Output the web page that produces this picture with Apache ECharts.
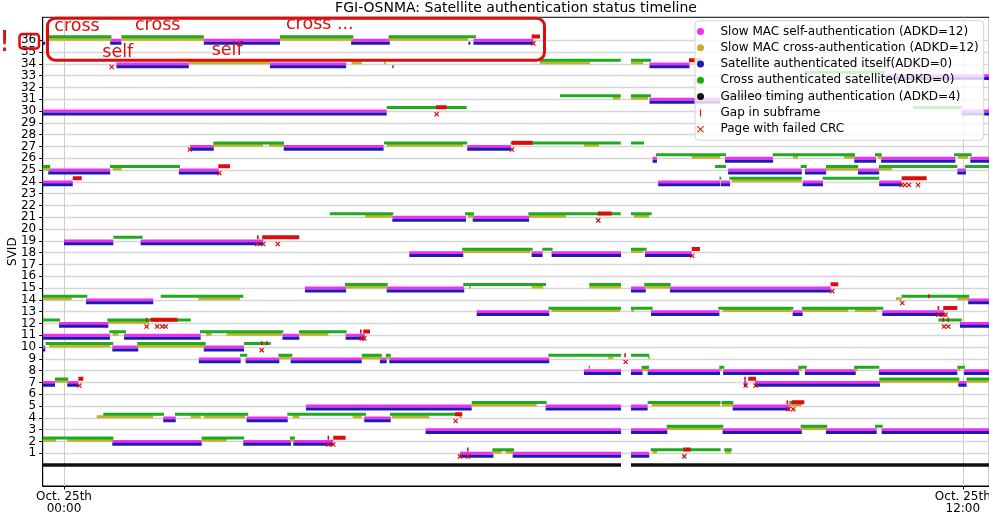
<!DOCTYPE html>
<html><head><meta charset="utf-8">
<script src="https://cdn.jsdelivr.net/npm/echarts@6/dist/echarts.min.js"></script>
<style>html,body{margin:0;padding:0;background:#fff}#c{width:989px;height:514px}</style>
</head><body><div id="c"></div>
<script>
// ---- axis / labels ----
const svidTicks = Array.from({length: 36}, (_, i) => i + 1);
const xTickValues = [0, 720];               // minutes since Oct. 25th 00:00
const xTickLabels = ['Oct. 25th\n00:00', 'Oct. 25th\n12:00'];
const seriesNames = [
  'Slow MAC self-authentication (ADKD=12)',
  'Slow MAC cross-authentication (ADKD=12)',
  'Satellite authenticated itself(ADKD=0)',
  'Cross authenticated satellite(ADKD=0)',
  'Galileo timing authentication (ADKD=4)',
  'Gap in subframe',
  'Page with failed CRC'
];

// ---- data: [SVID, start minute, end minute] ----
const selfSlow = [
 [36,37,46],[36,112,173],[36,230,261],[36,328,376],
 [34,42,100],[34,165,226],[34,469,501],
 [33,658,741],[31,469,525.5],[30,-17,258.5],[30,719,741],
 [27,101,120],[27,176,256],[27,323,358],
 [26,471.5,475],[26,529.5,568],[26,633,650.5],[26,654.5,714],[26,726,741],
 [25,-12.6,37],[25,92,124],[25,532,591],[25,593.5,610.5],[25,636,653],[25,715.6,722.5],
 [24,-17,7],[24,476,525.5],[24,526,533.5],[24,591.7,608],[24,653,671],
 [21,263,322],[21,327.4,372.5],
 [19,0,39.5],[19,61.4,159.6],
 [18,276.6,319.8],[18,374.6,383.4],[18,390.6,446.2],[18,465.4,502.8],
 [15,193,226],[15,258.5,320.6],[15,454.2,466],[15,485.4,614.1],
 [14,17.6,71.5],[14,724.3,741],
 [13,330.6,388.7],[13,470.2,525],[13,583.7,591.7],[13,655.5,705],
 [12,-4,35.5],[12,717.7,741],
 [11,-17,36.8],[11,48.1,109.5],[11,175,188.5],[11,225.6,241],
 [10,-17,-15],[10,38.7,59.5],[10,112,144.2],
 [9,108,141.5],[9,145.5,172.5],[9,181.6,238.5],[9,253,258.5],[9,260.6,388.7],
 [8,416.5,446.2],[8,454.2,463.5],[8,467.5,525.5],[8,528,589],[8,593.5,634.2],[8,652.8,715.6],[8,721,741],
 [7,-17,-7.2],[7,2.6,11.5],[7,544.7,546.8],[7,553.5,653.6],[7,716.4,723],
 [5,193.8,326.6],[5,385.8,446.2],[5,454.2,467.5],[5,535.6,581.5],
 [4,79.5,89.5],[4,146.3,179.2],[4,240.5,261.7],
 [3,289.7,446.2],[3,454.2,483.3],[3,527.6,591],[3,610.4,651],[3,655,741],
 [2,38.7,110.3],[2,143.6,181.8],[2,183.7,215.7],
 [1,317.2,344],[1,359.4,446.2],[1,454.2,468.8]
];
const crossSlow = [
 [36,-13,38],[36,46,112],[36,173,231.7],[36,260,323.6],
 [34,99.6,165],[34,230.4,238.5],[34,256.5,258],[34,381.3,421.3],[34,454.2,463.8],
 [31,439.7,445.4],[31,454.2,467.8],
 [27,119.6,159.4],[27,164.2,176.2],[27,258.7,319.6],[27,416.5,428.5],
 [26,502.8,525.5],[26,583.9,587.9],[26,624.8,633.6],[26,652,655.5],[26,716.1,724.1],
 [25,-17,-11],[25,39,46.2],[25,610.4,636],[25,652,663.2],
 [24,534.9,590.9],
 [21,241.1,262.5],[21,323.6,328.4],[21,372.5,402.1],[21,456.5,468.6],
 [18,319.6,373.3],[18,454.2,463.8],
 [15,225.1,258.7],[15,324.5,326],[15,374.6,383.9],[15,420.8,446.2],[15,464.8,486],
 [14,-17,6.2],[14,107.6,141],[14,666.4,671],[14,715.6,725.1],
 [13,390.6,445.4],[13,454.5,456.5],[13,527.6,582.9],[13,591.7,628.2],[13,633.6,651],
 [12,35.5,68.3],
 [11,39,43.5],[11,113.7,118.3],[11,130.3,174.4],[11,189,211.7],
 [10,-11.8,36.8],[10,58.7,112.1],
 [9,172.5,181.6],[9,238.5,254.5],[9,257.9,261.7],[9,436,440],[9,468,469.5],
 [8,462.7,467.8],[8,525,527],[8,588,591],[8,633,636],[8,716,718],
 [7,-7.2,3.4],[7,653.1,717.2],[7,723,741],
 [5,326.6,378.6],[5,470.7,525.5],[5,526.8,536.1],[5,581.5,590.9],
 [4,26.2,71.5],[4,101.5,109.5],[4,112.1,145],[4,183.2,188.5],[4,231.2,238.5],[4,262.5,292.6],[4,317,318.5],
 [3,482.8,527.6],[3,590.9,610.9],
 [2,-17,-6.4],[2,2.6,39.5],[2,110.3,130.3],[2,181,184],
 [1,343.1,350.6],[1,353.8,359.9],[1,471.5,475],[1,529.5,534.3]
];
const selfAuth = [
 [36,-17,-15],[36,37,46],[36,112,173],[36,230,261],[36,324,325.5],[36,328,376],
 [34,42,100],[34,165,226],[34,263,264],[34,469,501],
 [33,658,741],[31,469,525.5],[30,-17,258.5],[30,719,741],
 [27,101,120],[27,176,256],[27,323,358],
 [26,471.5,475],[26,529.5,568],[26,633,650.5],[26,654.5,714],[26,726,741],
 [25,-12.6,37],[25,92,124],[25,532,591],[25,593.5,610.5],[25,636,653],[25,715.6,722.5],
 [24,-17,7],[24,476,525.5],[24,526,533.5],[24,591.7,608],[24,653,671],
 [21,263,322],[21,327.4,372.5],
 [19,0,39.5],[19,61.4,159.6],
 [18,276.6,319.8],[18,374.6,383.4],[18,390.6,446.2],[18,465.4,502.8],
 [15,193,226],[15,258.5,320.6],[15,454.2,466],[15,485.4,614.1],
 [14,17.6,71.5],[14,724.3,741],
 [13,330.6,388.7],[13,470.2,525],[13,583.7,591.7],[13,655.5,705],
 [12,-4,35.5],[12,717.7,741],
 [11,-17,36.8],[11,48.1,109.5],[11,175,188.5],[11,225.6,241],
 [10,-17,-15],[10,38.7,59.5],[10,112,144.2],
 [9,108,141.5],[9,145.5,172.5],[9,181.6,238.5],[9,253,258.5],[9,260.6,388.7],
 [8,416.5,446.2],[8,454.2,463.5],[8,467.5,525.5],[8,528,589],[8,593.5,634.2],[8,652.8,715.6],[8,721,741],
 [7,-17,-7.2],[7,2.6,11.5],[7,544.7,546.8],[7,553.5,653.6],[7,716.4,723],
 [5,193.8,326.6],[5,385.8,446.2],[5,454.2,467.5],[5,535.6,581.5],
 [4,79.5,89.5],[4,146.3,179.2],[4,240.5,261.7],
 [3,289.7,446.2],[3,454.2,483.3],[3,527.6,591],[3,610.4,651],[3,655,741],
 [2,38.7,110.3],[2,143.6,181.8],[2,183.7,215.7],
 [1,317.2,344],[1,359.4,446.2],[1,454.2,468.8]
];
const crossAuth = [
 [36,-13,38],[36,46,112],[36,173,231.7],[36,260,330],
 [34,381,446],[34,454.2,470.2],
 [33,593.5,657.6],
 [31,397.3,446],[31,454.2,470.2],[31,527,573.5],
 [30,258.5,322.6],[30,680,719.3],
 [27,119.6,176.2],[27,256.3,323],[27,357.8,446],[27,454.2,464.6],
 [26,474.2,530.3],[26,567.7,633.6],[26,649.6,655],[26,712.9,727.1],
 [25,-17,-11],[25,36.8,92.9],[25,521.5,530.3],[25,590.1,595],[25,610.4,636.2],[25,652.8,715.6],[25,721.7,741],
 [24,525,526.5],[24,533,591],[24,607.7,653],
 [21,213,263.8],[21,321.2,328.4],[21,372,446],[21,454.2,470.7],
 [19,39.5,63],
 [18,319,375.4],[18,383.1,391.4],[18,454.2,466.7],
 [15,225.1,259.3],[15,319.8,386.1],[15,420.8,446.2],[15,464.8,486],
 [14,-17,18.7],[14,77.5,143.6],[14,671,725.1],
 [13,388,446.2],[13,454.2,471.5],[13,524.1,584.2],[13,591,656.3],
 [12,-17,-3.2],[12,34.7,101.5],[12,700.4,719.1],
 [11,36.3,49.7],[11,108.9,175.7],[11,188.2,226.4],
 [10,-14.7,39.5],[10,58.7,113.5],[10,144.2,165.6],
 [9,141,146.8],[9,171.7,182.9],[9,238.5,254.5],[9,257.9,261.7],[9,388,446.2],[9,454.2,468.8],
 [8,420.3,421.3],[8,462.7,468.6],[8,524.9,528.9],[8,588.2,595],[8,633,653.1],[8,715.6,721.7],
 [7,-7.2,3.4],[7,653.1,717.2],[7,723,741],
 [5,326.6,386.6],[5,467.5,526],[5,526.8,536.1],[5,581,589.5],
 [4,31.5,80.1],[4,88.9,147.6],[4,178.9,241.9],[4,261.1,318.6],
 [3,482.8,528.1],[3,590.1,611.4],[3,649.6,655.8],
 [2,-17,39.5],[2,110.3,144.4],[2,181,185],
 [1,343.1,360.5],[1,469.9,526],[1,528.9,534.9]
];
const timingAuth = [[0,-17,446.2],[0,454.2,741]];
const gapSubframe = [
 [36,374.6,381.3],[34,500.6,509.4],[30,298,306.5],[27,358.6,375.4],[25,123.6,133],
 [24,7,14.2],[24,671,691],[21,427.5,438.7],[19,155,155.6],[19,158.8,188.5],[18,502.8,509.4],
 [15,614.1,620.2],[14,692.6,693.2],[13,700.1,700.7],[13,704.3,715.6],
 [12,66,66.5],[12,69.4,90.8],[12,74.5,75],[12,704,704.6],[12,708,708.6],
 [11,237.5,238],[11,239.7,245.1],[10,158.2,158.7],[10,162.2,162.7],[9,449.2,449.7],
 [7,11.5,15.5],[7,545.3,545.8],[7,548.1,554.3],[5,579.2,579.7],[5,582.9,593],
 [4,313.2,319],[2,211.5,212],[2,215.7,225.6],[1,323.2,323.7],[1,496.1,502]
];
const failedCRC = [
 [36,375.9],[34,38.2],[30,298.5],[27,100.9],[27,358.8],[25,124.4],
 [24,671],[24,673.6],[24,676.8],[24,684.1],[21,428],[19,154.8],[19,159.6],[19,171.2],
 [18,503.3],[15,615.4],[14,671.5],[13,700.4],[13,704.3],[13,706.2],
 [12,66.2],[12,74.7],[12,78.7],[12,81.5],[12,704.9],[12,708.3],
 [11,238.5],[11,240.5],[10,158.4],[9,449.9],[7,12.3],[7,546],[7,554],
 [5,580.2],[5,584.2],[4,313.7],[2,211.7],[2,215.7],[1,317.2],[1,323.8],[1,496.9]
];

// ---- rendering ----
const RED = '#dc0d0d';
const FONT = 'DejaVu Sans';
function segRenderer(offset, h, minW) {
  return function (params, api) {
    const sv = api.value(0), s = api.value(1), e = api.value(2);
    const a = api.coord([s, sv + offset]);
    const b = api.coord([e, sv + offset]);
    let x = a[0], w = b[0] - a[0];
    if (w < minW) { x = (a[0] + b[0]) / 2 - minW / 2; w = minW; }
    const cs = params.coordSys;
    const r = echarts.graphic.clipRectByRect({x: x, y: a[1] - h / 2, width: w, height: h},
      {x: cs.x, y: cs.y, width: cs.width, height: cs.height});
    if (!r) return null;
    return {type: 'rect', shape: r, style: {fill: api.visual('color')}};
  };
}
function crossRenderer(offset, size) {
  return function (params, api) {
    const p = api.coord([api.value(1), api.value(0) + offset]);
    const d = size / 2;
    const st = {stroke: api.visual('color'), lineWidth: 1.2};
    return {type: 'group', children: [
      {type: 'line', shape: {x1: p[0] - d, y1: p[1] - d, x2: p[0] + d, y2: p[1] + d}, style: st},
      {type: 'line', shape: {x1: p[0] - d, y1: p[1] + d, x2: p[0] + d, y2: p[1] - d}, style: st}
    ]};
  };
}
function segSeries(name, data, color, offset, h, minW, z) {
  return {type: 'custom', name: name, data: data, clip: true, z: z,
    itemStyle: {color: color}, encode: {x: [1, 2], y: 0},
    renderItem: segRenderer(offset, h, minW), silent: true};
}

const chart = echarts.init(document.getElementById('c'), null, {renderer: 'canvas'});
const xPath = 'path://M0,1L1,0L5,4L9,0L10,1L6,5L10,9L9,10L5,6L1,10L0,9L4,5Z';
chart.setOption({
  animation: false,
  backgroundColor: '#fff',
  title: {text: 'FGI-OSNMA: Satellite authentication status timeline', left: 516, top: 1,
    textAlign: 'center', padding: 0,
    textStyle: {fontFamily: FONT, fontSize: 14, fontWeight: 'normal', color: '#000'}},
  grid: {left: 42.7, top: 17.3, width: 946.6, height: 468.7, show: true,
    borderColor: '#000', borderWidth: 1, containLabel: false, outerBoundsMode: 'none'},
  xAxis: {type: 'value', min: -17.06, max: 741.2,
    axisLine: {show: true, onZero: false, lineStyle: {color: '#000', width: 1}},
    axisTick: {show: true, customValues: xTickValues, length: 3.5, lineStyle: {color: '#000'}},
    axisLabel: {customValues: xTickValues, margin: 5.5, fontFamily: FONT, fontSize: 12, color: '#000',
      lineHeight: 11.7, formatter: v => xTickLabels[xTickValues.indexOf(v)]},
    splitLine: {show: true, lineStyle: {color: '#cccccc', width: 1}}},
  yAxis: {type: 'value', min: -1.77, max: 37.95, name: 'SVID', nameLocation: 'middle', nameGap: 24,
    nameMoveOverlap: false,
    nameTextStyle: {fontFamily: FONT, fontSize: 12, color: '#000'},
    axisLine: {show: true, onZero: false, lineStyle: {color: '#000', width: 1}},
    axisTick: {show: true, customValues: svidTicks, length: 3.5, lineStyle: {color: '#000'}},
    axisLabel: {customValues: svidTicks, margin: 6.5, fontFamily: FONT, fontSize: 12, color: '#000'},
    splitLine: {show: true, lineStyle: {color: '#d6d6d6', width: 1.3}}},
  legend: {orient: 'vertical', left: 695, top: 20.7, padding: [4.7, 5, 5, 2],
    itemWidth: 30, itemHeight: 7, itemGap: 4.3,
    backgroundColor: 'rgba(255,255,255,0.8)', borderColor: '#d4d4d4', borderWidth: 1, borderRadius: 4,
    textStyle: {fontFamily: FONT, fontSize: 12, color: '#000'},
    data: [
      {name: seriesNames[0], icon: 'circle'},
      {name: seriesNames[1], icon: 'circle'},
      {name: seriesNames[2], icon: 'circle'},
      {name: seriesNames[3], icon: 'circle'},
      {name: seriesNames[4], icon: 'circle'},
      {name: seriesNames[5], icon: 'path://M0,0h1v6h-1z'},
      {name: seriesNames[6], icon: xPath}
    ]},
  series: [
    segSeries(seriesNames[0], selfSlow, '#f02ff0', 0.0, 3, 1, 2),
    segSeries(seriesNames[1], crossSlow, '#bdb32c', 0.1, 3, 1, 2),
    segSeries(seriesNames[2], selfAuth, '#1c1cb4', -0.24, 3, 1, 2),
    segSeries(seriesNames[3], crossAuth, '#20aa20', 0.3, 3, 1, 2),
    segSeries(seriesNames[4], timingAuth, '#111111', 0.0, 3.5, 1, 2),
    segSeries(seriesNames[5], gapSubframe, RED, 0.32, 4, 1.6, 3),
    {type: 'custom', name: seriesNames[6], data: failedCRC, clip: true, z: 3,
      itemStyle: {color: RED}, encode: {x: 1, y: 0}, silent: true,
      renderItem: crossRenderer(-0.26, 4.2)}
  ],
  graphic: [
    {type: 'rect', shape: {x: 47.5, y: 18.2, width: 497, height: 42, r: 8}, z: 100,
      style: {fill: 'none', stroke: RED, lineWidth: 3}},
    {type: 'rect', shape: {x: 19.5, y: 34, width: 19.5, height: 14.5, r: 3}, z: 100,
      style: {fill: 'none', stroke: RED, lineWidth: 2.5}},
    {type: 'text', z: 100, style: {text: '!', x: 4.5, y: 43.5, fill: RED, fontFamily: FONT, fontSize: 29, align: 'center', verticalAlign: 'middle'}},
    {type: 'text', z: 100, style: {text: 'cross', x: 54.3, y: 26.3, fill: RED, fontFamily: FONT, fontSize: 17.5, verticalAlign: 'middle'}},
    {type: 'text', z: 100, style: {text: 'cross', x: 135, y: 25.6, fill: RED, fontFamily: FONT, fontSize: 17.5, verticalAlign: 'middle'}},
    {type: 'text', z: 100, style: {text: 'cross ...', x: 286, y: 24.8, fill: RED, fontFamily: FONT, fontSize: 17.5, verticalAlign: 'middle'}},
    {type: 'text', z: 100, style: {text: 'self', x: 102.3, y: 52.8, fill: RED, fontFamily: FONT, fontSize: 17.5, verticalAlign: 'middle'}},
    {type: 'text', z: 100, style: {text: 'self', x: 211.7, y: 50.8, fill: RED, fontFamily: FONT, fontSize: 17.5, verticalAlign: 'middle'}}
  ]
});
</script></body></html>
